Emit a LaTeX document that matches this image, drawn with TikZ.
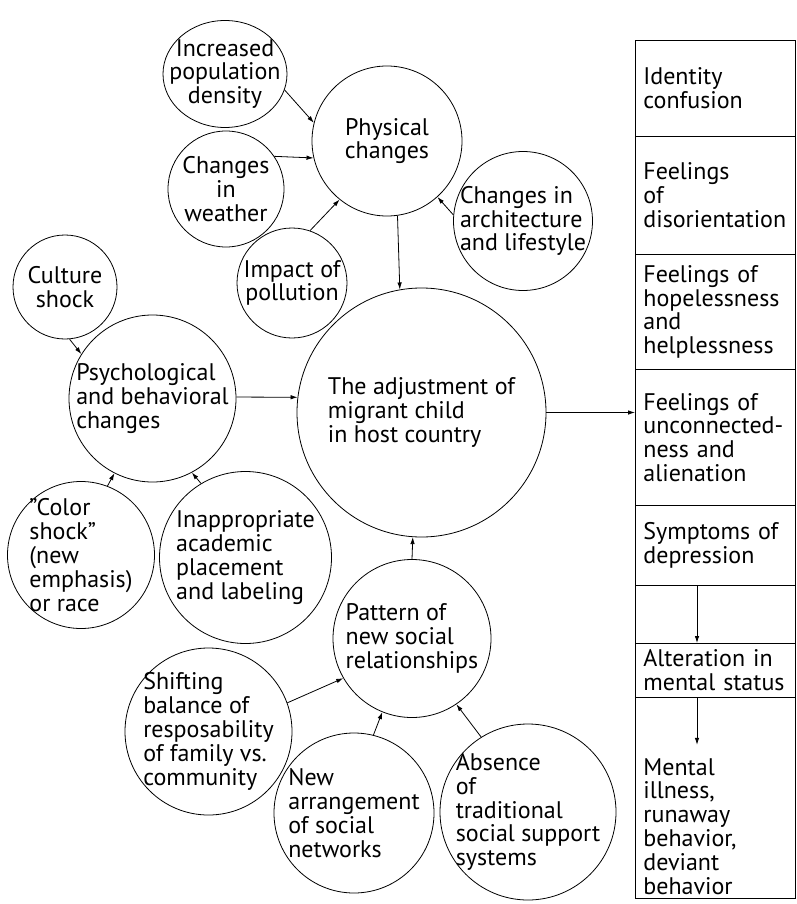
\documentclass[tikz,border=0pt]{standalone}
\usepackage{fontspec}
\setmainfont{PT Sans}
\usetikzlibrary{arrows.meta,shapes.geometric}

\begin{document}
\begin{tikzpicture}[x=1pt, y=-1pt, line width=0.8pt, >={Latex[length=7pt,width=4.5pt]},
  every node/.style={font=\fontsize{24}{23.8}\selectfont},
  bubble/.style={draw, circle, inner sep=-40pt, align=center},
  lbubble/.style={bubble, align=left},
  cell/.style={draw, rectangle, anchor=north west, minimum width=160pt, text width=144pt, inner xsep=8pt, inner ysep=0pt, align=left}]

  \useasboundingbox (0,0) rectangle (796,904);

  % physical side
  \node [draw, ellipse, inner sep=-40pt, align=center, minimum width=124pt, minimum height=107pt] (dens) at (225,74) {Increased\\population\\density};
  \node [bubble, minimum size=150pt] (phys) at (387,141) {Physical\\changes};
  \node [bubble, minimum size=116pt] (wthr) at (226,189) {Changes\\in\\weather};
  \node [bubble, minimum size=110pt] (poll) at (292,283) {Impact of\\pollution};
  \node [lbubble, minimum size=139pt] (arch) at (523,221) {Changes in\\architecture\\and lifestyle};

  % psychological side
  \node [bubble, minimum size=104pt] (cult) at (65,287) {Culture\\shock};
  \node [lbubble, minimum size=167pt] (psych) at (152.5,398.5) {Psychological\\and behavioral\\changes};
  \node [lbubble, minimum size=147pt] (color) at (81,555) {''Color\\shock''\\(new\\emphasis)\\or race};
  \node [lbubble, minimum size=172pt] (inap) at (245.5,557.5) {Inappropriate\\academic\\placement\\and labeling};

  \node [lbubble, minimum size=249pt] (main) at (421.5,412.5) {The adjustment of\\migrant child\\in host country};

  % social side
  \node [lbubble, minimum size=158pt] (patt) at (412,638.5) {Pattern of\\new social\\relationships};
  \node [lbubble, minimum size=167pt] (shift) at (208.5,731.5) {Shifting\\balance of\\resposability\\of family vs.\\community};
  \node [lbubble, minimum size=160pt] (narr) at (354,813) {New\\arrangement\\of social\\networks};
  \node [lbubble, minimum size=176pt] (abs) at (528,812) {Absence\\of\\traditional\\social support\\systems};

  % outcome column
  \node [cell, minimum height=96pt] (c1) at (635,40) {Identity\\confusion};
  \node [cell, minimum height=118pt] (c2) at (635,136) {Feelings\\of\\disorientation};
  \node [cell, minimum height=115pt] (c3) at (635,254) {Feelings of\\hopelessness\\and\\helplessness};
  \node [cell, minimum height=136pt] (c4) at (635,369) {Feelings of\\unconnected-\\ness and\\alienation};
  \node [cell, minimum height=80pt] (c5) at (635,505) {Symptoms of\\depression};
  \node [cell, minimum height=58pt] (c6) at (635,585) {};
  \node [cell, minimum height=54pt] (c7) at (635,643) {Alteration in\\mental status};
  \node [cell, minimum height=201pt] (c8) at (635,697) {};
  \node [anchor=base west, text width=144pt, inner sep=0pt, align=left] (t8) at (643,775) {Mental\\illness,\\runaway\\behavior,\\deviant\\behavior};

  % arrows
  \draw [->] (dens.-15) -- (phys.166);
  \draw [->] (wthr.34) -- (phys.-167);
  \draw [->] (poll.71) -- (phys.-129);
  \draw [->] (arch.175) -- (phys.-48);
  \draw [->] (phys.-82) -- (main.100.6);
  \draw [->] (cult.-85) -- (psych.148);
  \draw [->] (color.69) -- (psych.-117);
  \draw [->] (inap.121) -- (psych.-62);
  \draw [->] (psych.1) -- (main.173);
  \draw [->] (main.east) -- (main.east -| c4.west);
  \draw [->] (patt.north) -- (main.-94.4);
  \draw [->] (shift.20) -- (patt.-150.6);
  \draw [->] (narr.76) -- (patt.-112);
  \draw [->] (abs.122.6) -- (patt.-56.7);

  \coordinate (s1) at (697,585);
  \coordinate (s2) at (697,697);
  \draw [->] (s1) -- (s1 |- c7.north);
  \draw [->] (s2) -- ([yshift=13pt]s2 |- t8.north);
\end{tikzpicture}
\end{document}
